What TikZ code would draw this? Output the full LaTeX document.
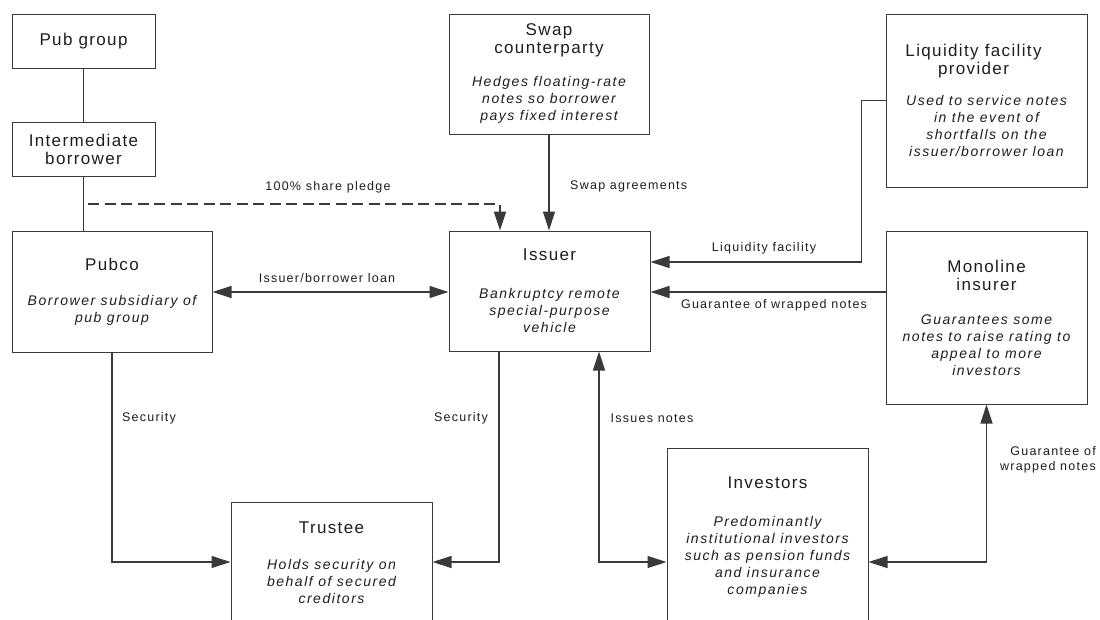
\documentclass[tikz,border=0pt]{standalone}
\usepackage{fontspec}
\setmainfont{Liberation Sans}
\newfontfamily\titlefam[LetterSpace=8]{Liberation Sans}
\newfontfamily\notefam[LetterSpace=11]{Liberation Sans}
\newfontfamily\labelfam[LetterSpace=10]{Liberation Sans}
\usetikzlibrary{arrows.meta}
\definecolor{ink}{HTML}{1E1E1E}
\definecolor{rule}{HTML}{3A3A3A}
\newcommand\boxtitle{\titlefam\fontsize{17}{18}\selectfont}
\newcommand\boxnote{\notefam\itshape\fontsize{14}{17}\selectfont}
\newcommand\flowlabel{\labelfam\fontsize{12.5}{15}\selectfont}
% heading paragraph, gap, italic description paragraph;
% optional argument pulls the heading left by half its value
\newcommand\boxtext[4][0pt]{\parbox{196pt}{\centering\boxtitle
  \advance\rightskip#1\relax #2\par\vspace{#3}\centering\boxnote #4\par}}
\newcommand\boxhead[1]{\parbox{140pt}{\centering\boxtitle #1\par}}

\begin{document}
\begin{tikzpicture}[x=1pt,y=-1pt,
  box/.style={draw=rule, line width=1pt, fill=white, inner sep=0pt,
    text=ink, minimum width=201pt},
  lab/.style={text=ink, inner sep=0pt, font=\flowlabel, align=center},
  link/.style={draw=rule, line width=1.2pt},
  tip/.style={-{Triangle[length=19pt,width=12pt]}},
  tips/.style={{Triangle[length=19pt,width=12pt]}-{Triangle[length=19pt,width=12pt]}},
  pledge/.style={draw=rule, line width=2pt, dash pattern=on 11pt off 5.5pt}]

\useasboundingbox (0,0) rectangle (1100,619);
\fill[white] (0,0) rectangle (1100,619);
\clip (0,0) rectangle (1100,619);

% boxes
\node[box, minimum width=143pt, minimum height=54pt] (pubgroup) at (83.5,41)
  {\boxhead{Pub group}};
\node[box, minimum width=143pt, minimum height=54pt] (inter) at (83.5,149)
  {\boxhead{Intermediate\\borrower}};
\node[box, minimum width=200pt, minimum height=121pt] (pubco) at (112,291.5)
  {\boxtext{Pubco}{18pt}{Borrower subsidiary of\\pub group}};
\node[box, minimum width=200pt, minimum height=120pt] (swap) at (549,74)
  {\boxtext{Swap\\counterparty}{16pt}{Hedges floating-rate\\notes so borrower\\pays fixed interest}};
\node[box, minimum height=120pt] (issuer) at (549.5,291)
  {\boxtext{Issuer}{21pt}{Bankruptcy remote\\special-purpose\\vehicle}};
\node[box, minimum height=173pt] (liq) at (986.5,100.5)
  {\boxtext[26pt]{Liquidity facility\\provider}{14pt}{Used to service notes\\in the event of\\shortfalls on the\\issuer/borrower loan}};
\node[box, minimum height=173pt] (mono) at (986.5,317.5)
  {\boxtext{Monoline\\insurer}{17pt}{Guarantees some\\notes to raise rating to\\appeal to more\\investors}};
\node[box, minimum height=122pt] (trustee) at (331.5,563)
  {\boxtext{Trustee}{19pt}{Holds security on\\behalf of secured\\creditors}};
\node[box, minimum height=178pt] (investors) at (767.5,537)
  {\boxtext{Investors}{21pt}{Predominantly\\institutional investors\\such as pension funds\\and insurance\\companies}};

% helper points
\coordinate (lowrow) at (0,562);
\coordinate (loanrow) at (0,292);
\coordinate (liqrow) at (0,262);
\coordinate (pledgestart) at (88,204);

% ownership chain
\draw[link] (pubgroup.south) -- (inter.north);
\draw[link] (inter.south) -- (inter.south |- pubco.north);

% share pledge
\draw[pledge, tip] (pledgestart) -| ([xshift=-49.5pt]issuer.north);
\node[lab] (pledgelab) at (328,187) {100\% share pledge};

% swap agreements
\draw[link, tip] (swap.south) -- (swap.south |- issuer.north);
\node[lab, anchor=west] (swaplab) at (570,186) {Swap agreements};

% issuer/borrower loan
\draw[link, tips] (pubco.east |- loanrow) -- (issuer.west |- loanrow);
\node[lab] (loanlab) at (327,278) {Issuer/borrower loan};

% liquidity facility
\draw[link, tip] (liq.west) -- ++(-24,0) |- (issuer.east |- liqrow);
\node[lab] (liqlab) at (764,248) {Liquidity facility};

% monoline guarantee to issuer
\draw[link, tip] (mono.west |- loanrow) -- (issuer.east |- loanrow);
\node[lab] (guarlab) at (774,305) {Guarantee of wrapped notes};

% security to trustee
\draw[link, tip] (pubco.south) |- (trustee.west |- lowrow);
\node[lab] (seclab1) at (149,418) {Security};
\draw[link, tip] ([xshift=-50.5pt]issuer.south) |- (trustee.east |- lowrow);
\node[lab] (seclab2) at (461,418) {Security};

% notes issued to investors
\draw[link, tips] ([xshift=49.5pt]issuer.south) |- (investors.west |- lowrow);
\node[lab] (issuelab) at (652,418) {Issues notes};

% monoline guarantee to investors
\draw[link, tips] (investors.east |- lowrow) -| (mono.south);
\node[lab, align=right, anchor=east] (guarlab2) at (1096,460) {Guarantee of\\wrapped notes};

\end{tikzpicture}
\end{document}
